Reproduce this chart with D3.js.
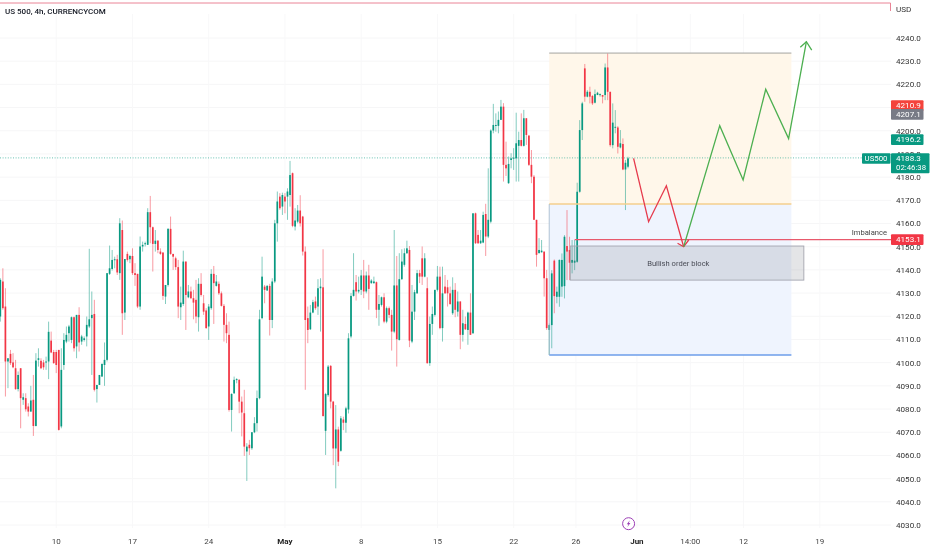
<!DOCTYPE html>
<html><head><meta charset="utf-8">
<script src="https://cdn.jsdelivr.net/npm/d3@7/dist/d3.min.js"></script>
<style>html,body{margin:0;padding:0;background:#fff}svg{display:block;filter:blur(0.3px)}text{font-family:Roboto,"Noto Sans",sans-serif}</style>
</head><body><svg id="c" width="932" height="550"></svg>
<script>
const highs=[4136.4,4140.7,4132.1,4101.9,4105.5,4104.1,4101.2,4096.2,4097.6,4086.8,
4086.8,4082.5,4090.0,4094.7,4104.1,4106.2,4101.9,4101.2,4102.6,4117.7,
4113.4,4105.5,4105.5,4105.5,4106.2,4112.7,4115.6,4116.3,4119.9,4119.9,
4120.6,4123.9,4112.0,4111.3,4119.9,4149.1,4130.7,4127.1,4090.4,4094.7,
4099.5,4108.7,4138.6,4150.5,4148.6,4145.7,4146.5,4162.3,4161.3,4144.7,
4147.9,4146.5,4149.3,4142.9,4138.3,4154.4,4152.2,4152.2,4166.6,4171.9,
4158.7,4157.2,4152.9,4149.3,4147.5,4133.5,4158.0,4163.0,4146.9,4145.7,
4144.3,4132.8,4148.3,4143.6,4133.5,4132.8,4131.4,4135.7,4136.4,4138.6,
4129.2,4123.5,4125.3,4140.3,4141.7,4137.8,4135.0,4130.7,4125.3,4121.3,
4117.7,4086.8,4094.0,4093.3,4092.9,4085.4,4088.3,4065.3,4066.7,4070.0,
4076.5,4088.0,4122.8,4145.7,4133.5,4133.5,4134.0,4136.4,4161.6,4173.8,
4173.1,4173.3,4173.1,4175.2,4187.0,4182.0,4166.6,4168.0,4172.2,4163.3,
4150.1,4124.2,4124.9,4127.1,4128.5,4136.0,4136.4,4148.9,4087.0,4099.0,
4099.0,4083.5,4081.7,4072.4,4077.0,4076.7,4081.0,4112.7,4130.0,4147.2,
4137.8,4137.1,4140.0,4144.3,4139.3,4142.2,4136.0,4137.1,4135.0,4129.2,
4128.5,4129.9,4124.2,4124.2,4122.8,4157.2,4146.0,4147.2,4148.9,4149.3,
4152.6,4150.3,4133.5,4131.4,4140.0,4140.0,4150.1,4147.2,4136.8,4119.9,
4124.2,4131.4,4141.7,4141.4,4141.4,4137.8,4135.7,4132.8,4136.8,4134.3,
4130.7,4126.4,4122.8,4119.9,4122.0,4129.9,4164.4,4164.7,4157.2,4157.2,
4165.1,4168.5,4183.8,4200.6,4211.6,4207.5,4208.3,4213.3,4211.9,4195.3,
4188.9,4190.3,4192.5,4207.8,4199.6,4207.5,4209.0,4205.4,4198.2,4191.7,
4180.9,4161.6,4153.7,4152.9,4147.9,4140.0,4116.9,4139.9,4144.5,4132.8,
4144.5,4147.1,4155.0,4165.8,4154.3,4152.9,4152.9,4177.6,4204.6,4212.5,
4228.8,4217.5,4219.0,4215.4,4217.8,4216.8,4216.1,4215.4,4229.0,4233.4,
4216.8,4211.8,4208.9,4202.0,4200.3,4196.7,4187.4,4188.8];
const bodyTops=[4135.7,4135.0,4124.2,4101.9,4103.8,4100.1,4097.6,4094.7,4097.6,4085.1,
4084.7,4081.1,4083.7,4084.0,4100.9,4101.9,4100.8,4100.1,4100.5,4113.3,
4109.5,4104.6,4104.6,4105.5,4096.9,4109.8,4112.0,4115.6,4119.6,4119.6,
4120.6,4120.6,4111.3,4110.5,4116.3,4118.7,4120.6,4121.0,4090.4,4094.7,
4099.5,4101.2,4138.6,4140.7,4144.3,4144.6,4144.6,4160.1,4157.2,4144.7,
4146.9,4146.0,4146.0,4138.6,4138.3,4150.1,4150.8,4151.5,4164.9,4164.9,
4158.4,4152.6,4152.6,4147.9,4147.5,4133.5,4157.7,4157.7,4146.9,4145.0,
4141.2,4125.9,4143.6,4143.6,4130.7,4130.7,4127.8,4127.1,4134.0,4134.0,
4125.6,4122.5,4124.2,4138.3,4138.3,4135.0,4134.0,4129.9,4124.5,4116.3,
4112.0,4086.5,4092.6,4092.9,4092.6,4083.2,4078.2,4063.8,4064.6,4070.0,
4073.9,4084.7,4118.7,4137.1,4132.8,4133.1,4133.1,4135.0,4160.1,4169.5,
4171.6,4172.3,4171.6,4173.8,4180.9,4181.7,4161.3,4165.6,4165.6,4163.0,
4147.9,4119.2,4121.6,4126.1,4126.4,4132.1,4132.8,4132.5,4086.5,4098.3,
4098.6,4083.2,4071.2,4071.2,4076.0,4075.5,4080.3,4110.5,4128.8,4131.4,
4134.7,4131.4,4137.6,4137.6,4137.6,4137.6,4135.4,4135.0,4134.7,4125.3,
4128.2,4128.2,4123.5,4123.5,4120.6,4133.3,4133.3,4136.0,4143.6,4147.2,
4149.3,4148.6,4122.0,4130.4,4138.6,4138.6,4145.0,4145.0,4132.1,4116.7,
4121.0,4131.4,4137.1,4137.1,4129.9,4132.8,4132.5,4129.9,4131.4,4131.4,
4126.4,4126.4,4117.0,4116.7,4121.6,4121.6,4164.4,4164.4,4155.1,4152.6,
4163.7,4164.1,4161.6,4200.1,4202.5,4202.5,4204.7,4210.4,4210.4,4185.3,
4185.7,4188.1,4188.4,4194.6,4196.0,4196.0,4205.4,4205.4,4197.9,4185.3,
4180.2,4161.6,4148.6,4148.3,4147.9,4136.4,4116.2,4138.5,4144.0,4130.6,
4144.3,4144.3,4154.3,4150.3,4148.6,4144.3,4144.0,4173.7,4200.3,4211.8,
4226.9,4216.8,4216.8,4215.0,4215.8,4216.4,4215.8,4215.4,4227.3,4227.3,
4216.8,4203.5,4201.7,4201.4,4194.6,4194.3,4186.2,4188.1];
const bodyBottoms=[4119.9,4123.5,4100.5,4100.5,4099.8,4098.0,4088.6,4088.6,4084.7,4084.0,
4079.9,4078.9,4078.9,4072.7,4072.7,4101.2,4097.6,4098.0,4100.1,4100.5,
4104.4,4099.8,4099.0,4071.0,4072.5,4099.0,4109.1,4112.7,4109.8,4106.2,
4107.0,4108.7,4109.1,4109.8,4111.3,4115.6,4119.2,4088.3,4088.6,4090.4,
4094.0,4099.0,4101.2,4138.3,4140.4,4144.3,4138.9,4138.6,4121.3,4121.6,
4144.3,4144.6,4138.6,4137.8,4124.2,4124.2,4150.1,4151.2,4150.8,4158.4,
4151.2,4151.2,4148.6,4146.9,4128.8,4128.5,4133.5,4146.9,4145.7,4141.2,
4124.2,4123.9,4125.3,4129.2,4128.2,4127.8,4125.9,4119.9,4119.6,4129.2,
4122.0,4114.9,4115.6,4123.5,4134.3,4133.1,4129.9,4124.5,4116.3,4112.7,
4079.6,4079.6,4086.8,4092.6,4083.2,4078.5,4063.8,4061.7,4063.1,4063.1,
4070.0,4073.9,4084.7,4119.2,4131.4,4131.1,4118.4,4118.4,4135.0,4160.1,
4166.6,4167.3,4169.5,4171.6,4172.3,4159.0,4158.7,4160.8,4160.1,4147.9,
4118.4,4114.1,4114.4,4121.6,4123.5,4124.2,4132.1,4077.0,4070.6,4086.0,
4083.2,4063.0,4063.0,4057.3,4062.0,4074.1,4074.1,4079.8,4111.3,4128.8,
4130.7,4130.7,4131.4,4130.7,4130.7,4131.8,4134.3,4134.3,4122.8,4122.8,
4124.9,4117.7,4117.7,4120.6,4113.4,4113.4,4110.1,4109.8,4136.0,4142.2,
4147.2,4109.5,4109.1,4122.0,4129.9,4137.1,4137.1,4137.1,4099.8,4099.8,
4116.7,4120.6,4131.4,4114.9,4114.9,4129.9,4129.9,4125.3,4121.3,4122.8,
4122.0,4112.0,4112.0,4114.4,4114.1,4112.0,4112.7,4151.5,4151.5,4151.5,
4151.8,4154.4,4154.4,4160.8,4200.1,4202.1,4202.1,4204.7,4185.3,4183.8,
4177.4,4187.4,4188.1,4188.1,4193.5,4193.5,4193.5,4198.2,4185.3,4180.2,
4161.6,4146.5,4147.2,4147.6,4136.4,4114.9,4114.1,4116.2,4128.7,4128.4,
4128.4,4132.8,4133.0,4147.9,4143.1,4143.1,4143.1,4143.5,4173.7,4200.3,
4214.7,4214.7,4214.7,4211.8,4212.1,4215.4,4215.4,4214.7,4215.4,4216.8,
4193.8,4193.8,4201.4,4193.1,4192.8,4183.3,4183.3,4184.5];
const lows=[4117.7,4122.8,4085.4,4089.0,4099.0,4097.6,4088.3,4087.6,4071.7,4081.8,
4078.9,4076.8,4078.9,4068.4,4072.5,4098.3,4097.2,4096.9,4096.9,4092.9,
4104.1,4099.5,4095.5,4070.7,4071.7,4096.9,4108.4,4109.1,4108.4,4104.8,
4101.9,4104.8,4107.7,4109.1,4107.0,4114.9,4094.7,4087.6,4082.8,4090.4,
4094.0,4090.0,4100.5,4137.8,4139.7,4140.7,4137.8,4135.7,4112.0,4118.4,
4143.6,4142.9,4137.8,4133.1,4123.5,4122.8,4147.9,4150.1,4150.8,4151.5,
4139.3,4147.9,4147.2,4146.5,4127.1,4125.3,4132.8,4146.5,4140.0,4140.0,
4119.2,4118.4,4124.5,4114.1,4127.8,4127.4,4118.7,4117.0,4113.4,4128.5,
4120.6,4114.6,4109.8,4122.8,4116.7,4132.8,4129.2,4124.2,4109.1,4108.4,
4078.9,4070.3,4086.5,4091.1,4078.2,4068.2,4059.8,4049.0,4060.2,4062.4,
4069.6,4070.3,4084.2,4118.7,4125.6,4131.1,4111.7,4114.9,4134.3,4152.2,
4165.9,4163.7,4164.4,4161.6,4167.3,4158.4,4157.0,4160.1,4158.7,4146.2,
4088.3,4108.4,4114.1,4121.3,4122.8,4120.6,4113.4,4076.7,4060.2,4085.3,
4080.3,4055.8,4045.8,4055.4,4061.6,4070.9,4069.8,4078.1,4110.5,4128.5,
4126.8,4129.9,4129.2,4127.8,4129.9,4122.8,4134.0,4134.0,4119.2,4115.9,
4124.2,4117.0,4117.0,4119.2,4105.2,4112.7,4098.3,4109.5,4135.7,4141.4,
4146.9,4106.7,4108.4,4118.4,4129.7,4134.3,4133.5,4136.8,4099.5,4098.6,
4112.0,4119.9,4130.7,4114.4,4109.1,4129.7,4124.2,4124.9,4120.6,4119.6,
4119.9,4105.8,4109.1,4114.1,4107.7,4112.0,4112.4,4151.2,4151.2,4151.2,
4151.5,4146.0,4153.7,4160.1,4198.9,4199.6,4198.9,4204.7,4178.1,4180.5,
4177.1,4183.8,4183.1,4178.1,4178.1,4193.2,4193.2,4193.9,4184.8,4177.4,
4161.6,4141.4,4147.2,4147.5,4128.5,4114.1,4103.3,4106.2,4121.3,4125.6,
4124.1,4128.4,4127.7,4135.6,4135.6,4138.5,4139.9,4143.1,4173.3,4196.0,
4212.5,4214.4,4211.8,4211.1,4211.8,4215.4,4214.7,4211.8,4213.2,4213.2,
4193.1,4192.4,4198.9,4190.2,4192.4,4183.0,4165.8,4183.8];
const directions=("GRRGRRRGRG"+"RRGRGGRRGG"+"RRRRGGGGGR"+"GRGGGGGRGG"+"GGGGGGRGRG"+"RGRRRGGGGR"+"RGRRRGGRRR"+"RGGRGRRRGR"+"RRGGRGRRRR"+"RGGGRRRGRG"+
"GGGGRGRGGG"+"RGRGGRGGRR"+"RRGGRGGRGG"+"RRGRGRGGGG"+"RGGRGRGGRG"+"GRGRRGRGGG"+"GRGGGRRGRG"+"GGGRGRRRGR"+"GRGRGRGRRG"+"GRGGGGGGRR"+
"GGGGGRGRRR"+"RRGGRRGGRG"+"GGGRRGGGGG"+"RGRRGGGRGR"+"RGGRGRGG").split("");

const priceTicks=[4030,4040,4050,4060,4070,4080,4090,4100,4110,4120,4130,4140,4150,4160,4170,4180,4190,4200,4220,4230,4240];
const gridPrices=d3.range(4030,4241,10);
const timeTickBars=[22,52,82,112,142,172,202,226.5,250.5,271.5,292.5,322.5];
const timeTickLabels=["10","17","24","May","8","15","22","26","Jun","14:00","12","19"];
const boldTimeLabels=["May","Jun"];

const zoneBars=[216,311.3], zoneTop=4233.5, zoneMid=4168.4, zoneBottom=4103.3;
const blockBars=[224.3,316.2], blockTop=4150.3, blockBottom=4135.6, blockLabelBar=266.8;
const imbalanceBar=226, imbalancePrice=4153.1;
const lastPrice=4188.3;
const redPathBars=[249.2,255.1,262.1,268.9], redPathPrices=[4188.1,4160.8,4176.3,4150.0];
const redHeadBars=[266.5,268.9,270.9], redHeadPrices=[4151.5,4150.0,4152.9];
const greenPathBars=[268.9,283.1,292.3,301.2,310.2,317.2], greenPathPrices=[4150.0,4202.2,4178.8,4217.9,4196.6,4238.4];
const greenHeadBars=[314.8,317.2,319.3], greenHeadPrices=[4236.0,4238.4,4234.8];
const priceTags=[[4210.9,"#f4433c"],[4207.1,"#787b86"],[4196.2,"#089981"],[4153.1,"#f23645"]];

const svg=d3.select("#c");
const x=d3.scaleLinear().domain([0,247]).range([0.33,628]);
const y=d3.scaleLinear().domain([4030,4240]).range([525,38]);
const G="#089981",R="#f23645",W=891;

// grid
svg.append("g").selectAll("line").data(gridPrices).join("line")
 .attr("x1",0).attr("x2",W).attr("y1",d=>y(d)).attr("y2",d=>y(d)).attr("stroke","#f6f6f7");
svg.append("g").selectAll("line").data(timeTickBars).join("line")
 .attr("x1",d=>x(d)).attr("x2",d=>x(d)).attr("y1",14).attr("y2",528).attr("stroke","#f8f8f9");

// zones
const zx=x(zoneBars[0]),zw=x(zoneBars[1])-zx;
svg.append("rect").attr("x",zx).attr("width",zw).attr("y",y(zoneTop)).attr("height",y(zoneMid)-y(zoneTop)).attr("fill","#fff7ea");
svg.append("rect").attr("x",zx).attr("width",zw).attr("y",y(zoneMid)).attr("height",y(zoneBottom)-y(zoneMid)).attr("fill","#eff4fe");

// last price dotted
svg.append("line").attr("x1",0).attr("x2",W).attr("y1",y(lastPrice)).attr("y2",y(lastPrice))
 .attr("stroke",G).attr("stroke-width",0.8).attr("stroke-dasharray","1 1.6").attr("opacity",.75);

// candles
const bars=highs.map((h,i)=>({i,h,t:bodyTops[i],b:bodyBottoms[i],l:lows[i],d:directions[i]}));
const cg=svg.append("g");
cg.selectAll("line").data(bars).join("line")
 .attr("x1",d=>x(d.i)).attr("x2",d=>x(d.i)).attr("y1",d=>y(d.h)).attr("y2",d=>y(d.l))
 .attr("stroke",d=>d.d==="G"?G:R).attr("stroke-width",1).attr("opacity",.5);
cg.selectAll("rect").data(bars).join("rect")
 .attr("x",d=>x(d.i)-0.85).attr("width",1.7).attr("y",d=>y(d.t))
 .attr("height",d=>Math.max(1,y(d.b)-y(d.t))).attr("fill",d=>d.d==="G"?G:R);

// zone lines
svg.append("line").attr("x1",zx).attr("x2",zx+zw).attr("y1",y(zoneTop)).attr("y2",y(zoneTop)).attr("stroke","#a3a3a0").attr("stroke-width",1);
svg.append("line").attr("x1",zx).attr("x2",zx+zw).attr("y1",y(zoneMid)).attr("y2",y(zoneMid)).attr("stroke","#f4cf8e").attr("stroke-width",1.6);
svg.append("line").attr("x1",zx).attr("x2",zx+zw).attr("y1",y(zoneBottom)).attr("y2",y(zoneBottom)).attr("stroke","#6d9eea").attr("stroke-width",1.4);
svg.append("line").attr("x1",zx).attr("x2",zx).attr("y1",y(zoneMid)).attr("y2",y(zoneBottom)).attr("stroke","#9fb6c9").attr("stroke-width",.8);

// order block
svg.append("rect").attr("x",x(blockBars[0])).attr("width",x(blockBars[1])-x(blockBars[0]))
 .attr("y",y(blockTop)).attr("height",y(blockBottom)-y(blockTop))
 .attr("fill","rgba(120,123,134,.2)").attr("stroke","#a4a6b0").attr("stroke-width",.9);
svg.append("text").attr("x",x(blockLabelBar)).attr("y",(y(blockTop)+y(blockBottom))/2+3)
 .attr("text-anchor","middle").attr("font-size",7.6).attr("fill","#4a4d57").text("Bullish order block");

// imbalance
svg.append("line").attr("x1",x(imbalanceBar)).attr("x2",W).attr("y1",y(imbalancePrice)).attr("y2",y(imbalancePrice))
 .attr("stroke","#e8596c").attr("stroke-width",1.3);
svg.append("text").attr("x",887).attr("y",y(imbalancePrice)-5).attr("text-anchor","end").attr("font-size",7.6).attr("fill","#444").text("Imbalance");

// projected paths
const ln=d3.line().x(d=>x(d[0])).y(d=>y(d[1]));
const pathOf=(bs,ps,c,w)=>svg.append("path").attr("d",ln(d3.zip(bs,ps))).attr("fill","none").attr("stroke",c).attr("stroke-width",w).attr("stroke-linejoin","miter");
pathOf(redPathBars,redPathPrices,"#e63a4c",1.3);
pathOf(redHeadBars,redHeadPrices,"#e63a4c",1.3);
pathOf(greenPathBars,greenPathPrices,"#4caf50",1.3);
pathOf(greenHeadBars,greenHeadPrices,"#4caf50",1.3);

// top alert line
svg.append("path").attr("d",d3.line()([[0,3],[W-.5,3],[W-.5,11]])).attr("fill","none").attr("stroke","#ea8496").attr("stroke-width",1);

// price axis
const ax=svg.append("g").attr("font-size",8.1).attr("fill","#333");
ax.selectAll("text").data(priceTicks).join("text").attr("x",896).attr("y",d=>y(d)+2.9).text(d=>d.toFixed(1));
svg.append("text").attr("x",896).attr("y",11.8).attr("font-size",8.1).attr("fill","#333").text("USD");

// tags
const tags=svg.append("g");
priceTags.forEach(([p,c])=>{
  tags.append("rect").attr("x",891).attr("y",y(p)-5.2).attr("width",32.5).attr("height",10.6).attr("rx",1).attr("fill",c);
  tags.append("text").attr("x",896).attr("y",y(p)+2.9).attr("font-size",8.1).attr("fill","#fff").text(p.toFixed(1));
});
tags.append("rect").attr("x",862).attr("y",y(lastPrice)-4.6).attr("width",28.5).attr("height",10.4).attr("rx",1).attr("fill",G);
tags.append("text").attr("x",876).attr("y",y(lastPrice)+3.2).attr("text-anchor","middle").attr("font-size",7.8).attr("fill","#fff").text("US500");
tags.append("rect").attr("x",891).attr("y",y(lastPrice)-4.6).attr("width",38.5).attr("height",20).attr("rx",1).attr("fill",G);
tags.append("text").attr("x",896).attr("y",y(lastPrice)+3.2).attr("font-size",8.1).attr("fill","#fff").text(lastPrice.toFixed(1));
tags.append("text").attr("x",896).attr("y",y(lastPrice)+12.6).attr("font-size",7.8).attr("fill","#fff").text("02:46:38");

// time axis
svg.append("g").selectAll("text").data(timeTickBars).join("text")
 .attr("x",d=>x(d)).attr("y",544).attr("text-anchor","middle").attr("font-size",8)
 .attr("fill",(d,i)=>boldTimeLabels.includes(timeTickLabels[i])?"#222":"#444")
 .attr("font-weight",(d,i)=>boldTimeLabels.includes(timeTickLabels[i])?700:400)
 .text((d,i)=>timeTickLabels[i]);

// title
svg.append("text").attr("x",5).attr("y",13.6).attr("font-size",8).attr("font-weight",500).attr("fill","#131722").text("US 500, 4h, CURRENCYCOM");

// event icon
const ic=svg.append("g").attr("transform","translate(628.6,523.7)");
ic.append("circle").attr("r",6).attr("fill","#fff").attr("stroke","#9c3fb5").attr("stroke-width",1);
ic.append("path").attr("d","M1.2,-3.4 L-1.8,0.6 L-0.2,0.6 L-1.2,3.4 L1.8,-0.8 L0.2,-0.8 Z").attr("fill","#9c3fb5");
</script></body></html>
